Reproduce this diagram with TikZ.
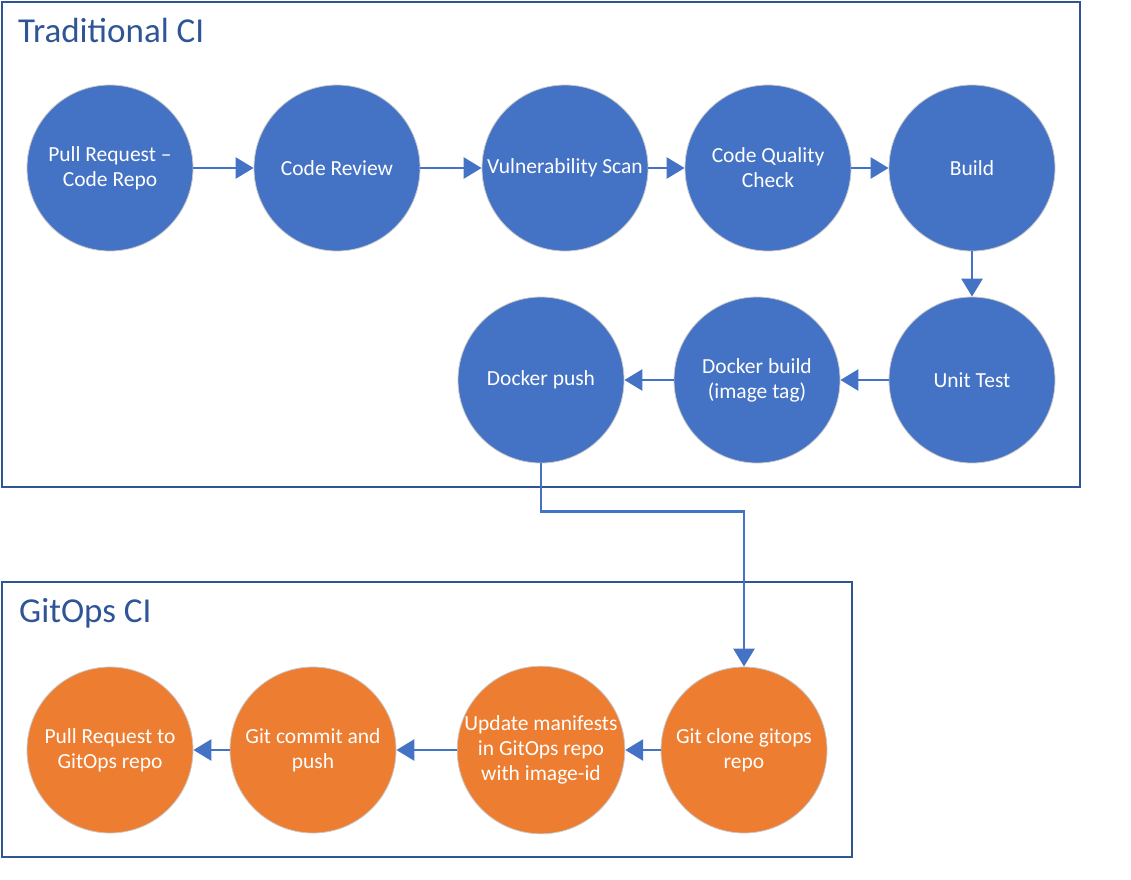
\documentclass[tikz,border=0pt]{standalone}
\usepackage{fontspec}
\setmainfont{Carlito}
\usetikzlibrary{arrows.meta}
\definecolor{cblue}{HTML}{4472C4}
\definecolor{corange}{HTML}{ED7D31}
\definecolor{cframe}{HTML}{2F5597}
\definecolor{cedge}{HTML}{C8C8C8}
\tikzset{
  stage/.style={circle, minimum size=166pt, inner sep=0pt, draw=cedge, line width=0.8pt,
    text=white, align=center, font=\fontsize{21.5}{25}\selectfont},
  ci/.style={stage, fill=cblue},
  ops/.style={stage, fill=corange},
  frame/.style={draw=cframe, line width=2pt},
  title/.style={anchor=base west, text=cframe, font=\fontsize{35}{40}\selectfont, inner sep=0pt},
  flow/.style={draw=cblue, line width=2.8pt, -{Triangle[length=18pt,width=21pt]}},
}
\begin{document}
\begin{tikzpicture}[x=1pt,y=-1pt]
\useasboundingbox (0,0) rectangle (1131,879);
\draw[frame] (2,2) rectangle (1080,487);
\draw[frame] (2,582) rectangle (852,857);
\node[title] (t1) at (18,42) {Traditional CI};
\node[title] (t2) at (19,622) {GitOps CI};

\node[ci] (pr) at (110,168) {Pull Request –\\Code Repo};
\node[ci] (cr) at (337,168) {Code Review};
\node[ci] (vs) at (565,168) {Vulnerability Scan};
\node[ci] (cq) at (768,168) {Code Quality\\Check};
\node[ci] (bd) at (972,168) {Build};
\node[ci] (ut) at (972,380) {Unit Test};
\node[ci] (db) at (757,380) {Docker build\\(image tag)};
\node[ci] (dp) at (541,380) {Docker push};

\node[ops] (gc) at (744,750) {Git clone gitops\\repo};
\node[ops] (um) at (541,750) {Update manifests\\in GitOps repo\\with image-id};
\node[ops] (gm) at (313,750) {Git commit and\\push};
\node[ops] (pg) at (110,750) {Pull Request to\\GitOps repo};

\draw[flow] (pr) -- (cr);
\draw[flow] (cr) -- (vs);
\draw[flow] (vs) -- (cq);
\draw[flow] (cq) -- (bd);
\draw[flow] (bd) -- (ut);
\draw[flow] (ut) -- (db);
\draw[flow] (db) -- (dp);
\draw[flow] (dp.south) -- ++(0,48) -| (gc.north);
\draw[flow] (gc) -- (um);
\draw[flow] (um) -- (gm);
\draw[flow] (gm) -- (pg);
\end{tikzpicture}
\end{document}
